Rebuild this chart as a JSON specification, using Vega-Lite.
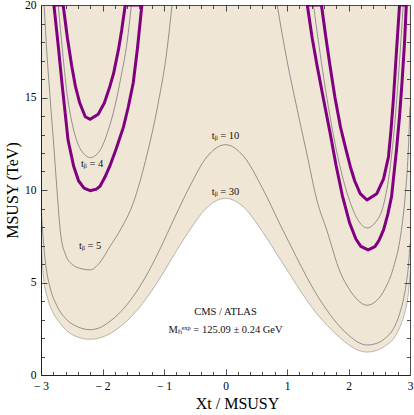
{
  "$schema": "https://vega.github.io/schema/vega-lite/v6.json",
  "width": 369,
  "height": 370,
  "autosize": {"type": "none"},
  "padding": {"left": 41, "top": 5, "right": 4, "bottom": 40},
  "background": "white",
  "config": {
    "view": {"stroke": null},
    "axis": {"labelFont": "Liberation Serif", "titleFont": "Liberation Serif", "labelColor": "#000", "titleColor": "#000", "domainColor": "#222", "labelFontSize": 11.5, "titleFontWeight": "normal", "domainWidth": 1, "gridColor": "#222", "gridOpacity": 1, "gridWidth": 0.8}
  },
  "datasets": {
    "t30": [
      {"x": -3, "y": 7.3}, {"x": -2.96, "y": 5.3}, {"x": -2.88, "y": 4.0}, {"x": -2.8, "y": 3.35}, {"x": -2.7, "y": 2.85}, {"x": -2.6, "y": 2.45}, {"x": -2.4, "y": 2.05}, {"x": -2.2, "y": 1.93}, {"x": -2.05, "y": 2.0}, {"x": -1.9, "y": 2.2}, {"x": -1.7, "y": 2.64}, {"x": -1.5, "y": 3.27}, {"x": -1.3, "y": 4.08}, {"x": -1.11, "y": 5.0}, {"x": -0.8, "y": 6.7}, {"x": -0.58, "y": 7.84}, {"x": -0.3, "y": 9.06}, {"x": 0, "y": 9.55}, {"x": 0.3, "y": 9.06}, {"x": 0.6, "y": 7.75}, {"x": 0.9, "y": 6.2}, {"x": 1.15, "y": 4.9}, {"x": 1.32, "y": 4.05}, {"x": 1.5, "y": 3.25}, {"x": 1.65, "y": 2.7}, {"x": 1.85, "y": 2.05}, {"x": 2.02, "y": 1.6}, {"x": 2.15, "y": 1.35}, {"x": 2.3, "y": 1.24}, {"x": 2.45, "y": 1.32}, {"x": 2.6, "y": 1.58}, {"x": 2.73, "y": 1.95}, {"x": 2.83, "y": 2.55}, {"x": 2.9, "y": 3.2}, {"x": 2.95, "y": 3.9}, {"x": 2.98, "y": 4.6}, {"x": 3.0, "y": 5.46}
    ],
    "gray": [
      {"c": "t10", "x": -3, "y": 9.2}, {"c": "t10", "x": -2.97, "y": 7.6}, {"c": "t10", "x": -2.92, "y": 5.9}, {"c": "t10", "x": -2.85, "y": 4.7}, {"c": "t10", "x": -2.75, "y": 3.8}, {"c": "t10", "x": -2.6, "y": 3.05}, {"c": "t10", "x": -2.4, "y": 2.6}, {"c": "t10", "x": -2.2, "y": 2.45}, {"c": "t10", "x": -2.05, "y": 2.55}, {"c": "t10", "x": -1.9, "y": 2.85}, {"c": "t10", "x": -1.7, "y": 3.43}, {"c": "t10", "x": -1.5, "y": 4.25}, {"c": "t10", "x": -1.3, "y": 5.3}, {"c": "t10", "x": -1.11, "y": 6.5}, {"c": "t10", "x": -0.8, "y": 8.7}, {"c": "t10", "x": -0.58, "y": 10.2}, {"c": "t10", "x": -0.3, "y": 11.8}, {"c": "t10", "x": 0, "y": 12.45}, {"c": "t10", "x": 0.3, "y": 11.8}, {"c": "t10", "x": 0.6, "y": 10.1}, {"c": "t10", "x": 0.9, "y": 8.05}, {"c": "t10", "x": 1.15, "y": 6.4}, {"c": "t10", "x": 1.32, "y": 5.3}, {"c": "t10", "x": 1.5, "y": 4.25}, {"c": "t10", "x": 1.65, "y": 3.5}, {"c": "t10", "x": 1.85, "y": 2.65}, {"c": "t10", "x": 2.02, "y": 2.1}, {"c": "t10", "x": 2.15, "y": 1.78}, {"c": "t10", "x": 2.3, "y": 1.62}, {"c": "t10", "x": 2.45, "y": 1.7}, {"c": "t10", "x": 2.6, "y": 2.0}, {"c": "t10", "x": 2.73, "y": 2.5}, {"c": "t10", "x": 2.83, "y": 3.3}, {"c": "t10", "x": 2.9, "y": 4.2}, {"c": "t10", "x": 2.95, "y": 5.2}, {"c": "t10", "x": 2.98, "y": 6.1}, {"c": "t10", "x": 3.0, "y": 7.1},
      {"c": "t5L", "x": -2.95, "y": 20}, {"c": "t5L", "x": -2.9, "y": 17.2}, {"c": "t5L", "x": -2.85, "y": 14.9}, {"c": "t5L", "x": -2.79, "y": 12.3}, {"c": "t5L", "x": -2.74, "y": 10.0}, {"c": "t5L", "x": -2.68, "y": 7.6}, {"c": "t5L", "x": -2.6, "y": 6.5}, {"c": "t5L", "x": -2.5, "y": 6.0}, {"c": "t5L", "x": -2.35, "y": 5.75}, {"c": "t5L", "x": -2.2, "y": 5.68}, {"c": "t5L", "x": -2.05, "y": 6.05}, {"c": "t5L", "x": -1.88, "y": 6.94}, {"c": "t5L", "x": -1.7, "y": 7.9}, {"c": "t5L", "x": -1.5, "y": 9.3}, {"c": "t5L", "x": -1.3, "y": 11.6}, {"c": "t5L", "x": -1.1, "y": 14.6}, {"c": "t5L", "x": -0.95, "y": 17.6}, {"c": "t5L", "x": -0.87, "y": 20},
      {"c": "t5R", "x": 0.84, "y": 20}, {"c": "t5R", "x": 1.0, "y": 17.0}, {"c": "t5R", "x": 1.15, "y": 14.6}, {"c": "t5R", "x": 1.32, "y": 12.0}, {"c": "t5R", "x": 1.49, "y": 9.4}, {"c": "t5R", "x": 1.65, "y": 7.8}, {"c": "t5R", "x": 1.86, "y": 5.6}, {"c": "t5R", "x": 2.02, "y": 4.6}, {"c": "t5R", "x": 2.15, "y": 4.05}, {"c": "t5R", "x": 2.3, "y": 3.77}, {"c": "t5R", "x": 2.45, "y": 4.0}, {"c": "t5R", "x": 2.6, "y": 4.7}, {"c": "t5R", "x": 2.73, "y": 5.8}, {"c": "t5R", "x": 2.85, "y": 7.6}, {"c": "t5R", "x": 2.92, "y": 9.6}, {"c": "t5R", "x": 2.97, "y": 12.0}, {"c": "t5R", "x": 3.0, "y": 14.5},
      {"c": "t4L", "x": -2.72, "y": 20}, {"c": "t4L", "x": -2.65, "y": 17.5}, {"c": "t4L", "x": -2.58, "y": 15.3}, {"c": "t4L", "x": -2.5, "y": 13.7}, {"c": "t4L", "x": -2.4, "y": 12.5}, {"c": "t4L", "x": -2.3, "y": 11.95}, {"c": "t4L", "x": -2.2, "y": 11.75}, {"c": "t4L", "x": -2.05, "y": 12.1}, {"c": "t4L", "x": -1.9, "y": 13.3}, {"c": "t4L", "x": -1.8, "y": 14.5}, {"c": "t4L", "x": -1.7, "y": 16.1}, {"c": "t4L", "x": -1.6, "y": 18.0}, {"c": "t4L", "x": -1.53, "y": 20},
      {"c": "t4R", "x": 1.43, "y": 20}, {"c": "t4R", "x": 1.6, "y": 16.0}, {"c": "t4R", "x": 1.8, "y": 12.2}, {"c": "t4R", "x": 2.0, "y": 9.6}, {"c": "t4R", "x": 2.15, "y": 8.4}, {"c": "t4R", "x": 2.3, "y": 7.95}, {"c": "t4R", "x": 2.45, "y": 8.3}, {"c": "t4R", "x": 2.57, "y": 9.2}, {"c": "t4R", "x": 2.66, "y": 10.8}, {"c": "t4R", "x": 2.75, "y": 13.5}, {"c": "t4R", "x": 2.82, "y": 16.5}, {"c": "t4R", "x": 2.89, "y": 20}
    ],
    "purple": [
      {"c": "L", "i": 0, "x": -2.79, "y": 20}, {"c": "L", "i": 1, "x": -2.72, "y": 17.8}, {"c": "L", "i": 2, "x": -2.66, "y": 15.8}, {"c": "L", "i": 3, "x": -2.56, "y": 12.7}, {"c": "L", "i": 4, "x": -2.47, "y": 11.3}, {"c": "L", "i": 5, "x": -2.39, "y": 10.5}, {"c": "L", "i": 6, "x": -2.3, "y": 10.1}, {"c": "L", "i": 7, "x": -2.2, "y": 9.96}, {"c": "L", "i": 8, "x": -2.1, "y": 10.05}, {"c": "L", "i": 9, "x": -2.04, "y": 10.2}, {"c": "L", "i": 10, "x": -1.96, "y": 10.7}, {"c": "L", "i": 11, "x": -1.88, "y": 11.3}, {"c": "L", "i": 12, "x": -1.78, "y": 12.2}, {"c": "L", "i": 13, "x": -1.66, "y": 13.4}, {"c": "L", "i": 14, "x": -1.58, "y": 14.5}, {"c": "L", "i": 15, "x": -1.5, "y": 15.8}, {"c": "L", "i": 16, "x": -1.43, "y": 17.7}, {"c": "L", "i": 17, "x": -1.36, "y": 20},
      {"c": "L", "i": 18, "x": -1.63, "y": 20}, {"c": "L", "i": 19, "x": -1.69, "y": 18.6}, {"c": "L", "i": 20, "x": -1.74, "y": 17.6}, {"c": "L", "i": 21, "x": -1.82, "y": 16.3}, {"c": "L", "i": 22, "x": -1.88, "y": 15.6}, {"c": "L", "i": 23, "x": -1.97, "y": 14.7}, {"c": "L", "i": 24, "x": -2.07, "y": 14.1}, {"c": "L", "i": 25, "x": -2.2, "y": 13.82}, {"c": "L", "i": 26, "x": -2.28, "y": 13.96}, {"c": "L", "i": 27, "x": -2.37, "y": 14.7}, {"c": "L", "i": 28, "x": -2.44, "y": 15.6}, {"c": "L", "i": 29, "x": -2.5, "y": 16.7}, {"c": "L", "i": 30, "x": -2.57, "y": 18.2}, {"c": "L", "i": 31, "x": -2.64, "y": 20}, {"c": "L", "i": 32, "x": -2.79, "y": 20},
      {"c": "R", "i": 0, "x": 1.33, "y": 20}, {"c": "R", "i": 1, "x": 1.41, "y": 18.2}, {"c": "R", "i": 2, "x": 1.49, "y": 16.7}, {"c": "R", "i": 3, "x": 1.6, "y": 14.8}, {"c": "R", "i": 4, "x": 1.7, "y": 13.1}, {"c": "R", "i": 5, "x": 1.8, "y": 11.3}, {"c": "R", "i": 6, "x": 1.9, "y": 9.7}, {"c": "R", "i": 7, "x": 2.02, "y": 8.2}, {"c": "R", "i": 8, "x": 2.12, "y": 7.35}, {"c": "R", "i": 9, "x": 2.2, "y": 6.95}, {"c": "R", "i": 10, "x": 2.32, "y": 6.76}, {"c": "R", "i": 11, "x": 2.43, "y": 6.94}, {"c": "R", "i": 12, "x": 2.5, "y": 7.3}, {"c": "R", "i": 13, "x": 2.57, "y": 7.84}, {"c": "R", "i": 14, "x": 2.64, "y": 8.7}, {"c": "R", "i": 15, "x": 2.7, "y": 9.64}, {"c": "R", "i": 16, "x": 2.78, "y": 12.16}, {"c": "R", "i": 17, "x": 2.83, "y": 14.0}, {"c": "R", "i": 18, "x": 2.87, "y": 15.8}, {"c": "R", "i": 19, "x": 2.91, "y": 17.9}, {"c": "R", "i": 20, "x": 2.94, "y": 20},
      {"c": "R", "i": 21, "x": 2.83, "y": 20}, {"c": "R", "i": 22, "x": 2.78, "y": 17.5}, {"c": "R", "i": 23, "x": 2.73, "y": 14.9}, {"c": "R", "i": 24, "x": 2.69, "y": 13.2}, {"c": "R", "i": 25, "x": 2.65, "y": 11.8}, {"c": "R", "i": 26, "x": 2.57, "y": 10.6}, {"c": "R", "i": 27, "x": 2.46, "y": 9.8}, {"c": "R", "i": 28, "x": 2.3, "y": 9.46}, {"c": "R", "i": 29, "x": 2.19, "y": 9.8}, {"c": "R", "i": 30, "x": 2.1, "y": 10.5}, {"c": "R", "i": 31, "x": 2.03, "y": 11.26}, {"c": "R", "i": 32, "x": 1.95, "y": 12.3}, {"c": "R", "i": 33, "x": 1.87, "y": 13.4}, {"c": "R", "i": 34, "x": 1.78, "y": 15.0}, {"c": "R", "i": 35, "x": 1.7, "y": 16.7}, {"c": "R", "i": 36, "x": 1.63, "y": 18.3}, {"c": "R", "i": 37, "x": 1.56, "y": 20}, {"c": "R", "i": 38, "x": 1.33, "y": 20}
    ],
    "labels": [
      {"label": "tᵦ = 4", "x": -2.17, "y": 11.4},
      {"label": "tᵦ = 5", "x": -2.2, "y": 6.97},
      {"label": "tᵦ = 10", "x": 0, "y": 12.9},
      {"label": "tᵦ = 30", "x": 0, "y": 9.9},
      {"label": "CMS /  ATLAS", "x": 0, "y": 3.4},
      {"label": "Mₕᵉˣᵖ = 125.09 ± 0.24  GeV", "x": 0, "y": 2.43}
    ]
  },
  "layer": [
    {
      "data": {"name": "t30"},
      "mark": {"type": "area", "color": "#EFE6D6", "interpolate": "monotone", "clip": true},
      "encoding": {
        "x": {"field": "x", "type": "quantitative", "scale": {"domain": [-3, 3], "nice": false, "zero": false},
          "axis": {"orient": "bottom", "zindex": 1, "tickCount": 200,
            "values": [-3, -2.8, -2.6, -2.4, -2.2, -2, -1.8, -1.6, -1.4, -1.2, -1, -0.8, -0.6, -0.4, -0.2, 0, 0.2, 0.4, 0.6, 0.8, 1, 1.2, 1.4, 1.6, 1.8, 2, 2.2, 2.4, 2.6, 2.8, 3],
            "ticks": false, "domain": true, "labelPadding": 5, "labelFlush": false, "labelOverlap": false,
            "labelExpr": "abs(datum.value - round(datum.value)) > 0.001 ? '' : (datum.value < 0 ? '− ' + format(-round(datum.value), 'd') : format(round(datum.value), 'd'))",
            "grid": true,
            "gridDash": {"condition": [{"test": "abs(datum.value) > 2.999", "value": [1000, 0]}, {"test": "abs(datum.value - round(datum.value)) < 0.001", "value": [6, 358]}], "value": [3.5, 363]},
            "title": "Xt / MSUSY", "titleFontSize": 16, "titleX": 196, "titleY": 28, "titleBaseline": "middle", "titleAlign": "center"}},
        "y": {"field": "y", "type": "quantitative", "scale": {"domain": [0, 20], "nice": false, "zero": false},
          "axis": {"orient": "left", "zindex": 1, "tickCount": 200,
            "values": [0, 1, 2, 3, 4, 5, 6, 7, 8, 9, 10, 11, 12, 13, 14, 15, 16, 17, 18, 19, 20],
            "ticks": false, "domain": true, "labelPadding": 5, "labelFlush": false, "labelOverlap": false,
            "labelExpr": "round(datum.value) % 5 === 0 ? format(round(datum.value), 'd') : ''",
            "grid": true,
            "gridDash": {"condition": [{"test": "datum.value === 0 || datum.value === 20", "value": [1000, 0]}, {"test": "datum.value % 5 === 0", "value": [6, 357]}], "value": [3.5, 362]},
            "title": "MSUSY (TeV)", "titleFontSize": 16, "titleX": -29, "titleY": 185, "titleAngle": -90, "titleAlign": "center", "titleBaseline": "middle"}},
        "y2": {"datum": 20}
      }
    },
    {
      "data": {"name": "gray"},
      "mark": {"type": "line", "color": "#7a7a7a", "strokeWidth": 0.8, "interpolate": "monotone", "clip": true},
      "encoding": {
        "x": {"field": "x", "type": "quantitative"},
        "y": {"field": "y", "type": "quantitative"},
        "detail": {"field": "c"}
      }
    },
    {
      "data": {"name": "t30"},
      "mark": {"type": "line", "color": "#a8a39a", "strokeWidth": 0.8, "interpolate": "monotone", "clip": true},
      "encoding": {
        "x": {"field": "x", "type": "quantitative"},
        "y": {"field": "y", "type": "quantitative"}
      }
    },
    {
      "data": {"name": "purple"},
      "mark": {"type": "line", "color": "#800080", "strokeWidth": 3, "interpolate": "linear", "strokeJoin": "round", "clip": true},
      "encoding": {
        "x": {"field": "x", "type": "quantitative"},
        "y": {"field": "y", "type": "quantitative"},
        "detail": {"field": "c"},
        "order": {"field": "i", "type": "quantitative"}
      }
    },
    {
      "data": {"name": "labels"},
      "mark": {"type": "text", "font": "Liberation Serif", "fontSize": 10.5, "color": "#111", "baseline": "middle", "align": "center"},
      "encoding": {
        "x": {"field": "x", "type": "quantitative"},
        "y": {"field": "y", "type": "quantitative"},
        "text": {"field": "label"}
      }
    }
  ]
}
